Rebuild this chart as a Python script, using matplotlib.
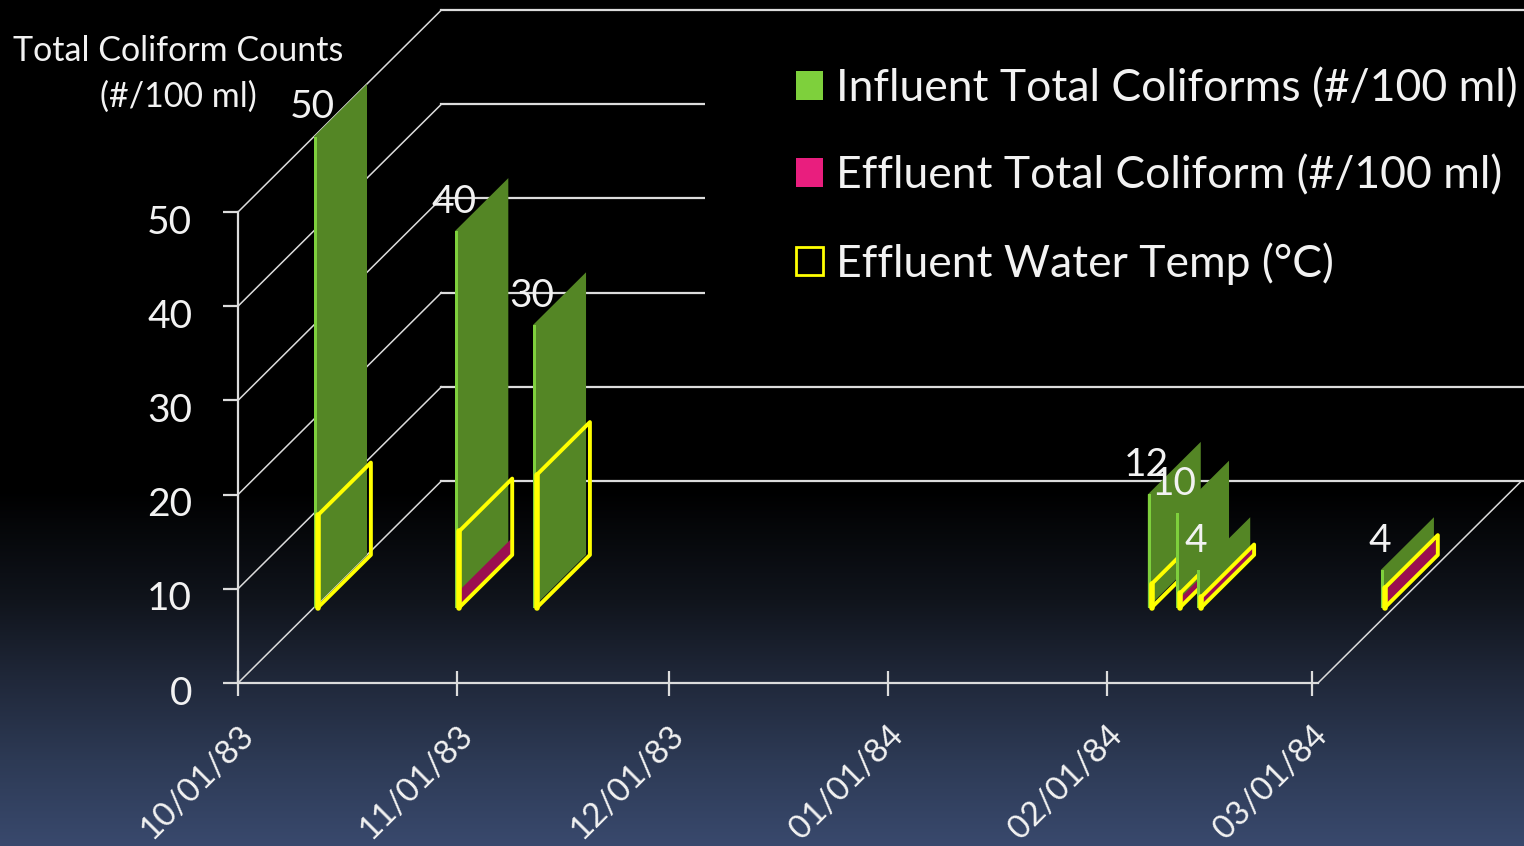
import numpy as np
import pandas as pd
import matplotlib
matplotlib.use("Agg")
import matplotlib.pyplot as plt
import matplotlib.dates as mdates
from matplotlib.patches import Patch, Polygon, Rectangle
from matplotlib.transforms import ScaledTranslation

plt.rcParams["font.family"] = ["Lato", "DejaVu Sans"]

# values
dates = ["1983-10-01", "1983-10-21", "1983-11-01", "1984-01-27", "1984-01-31", "1984-02-03", "1984-02-29"]
influent = [50, 40, 30, 12, 10, 4, 4]
effluent = [0.1, 1.8, 0.1, 0.1, 1.0, 1.1, 1.8]
water_temp = [9.8, 8.1, 14.1, 2.5, 1.5, 1.1, 2.1]
y_ticks = [0, 10, 20, 30, 40, 50]
x_ticks = ["1983-10-01", "1983-11-01", "1983-12-01", "1984-01-01", "1984-02-01", "1984-03-01"]
legend_labels = ["Influent Total Coliforms (#/100 ml)", "Effluent Total Coliform (#/100 ml)", "Effluent Water Temp (°C)"]

W, H = 1524, 846
TEXT = "#f2f2f2"
LINE = "#dcdcdc"
GREEN_SIDE = "#548625"
GREEN_FRONT = "#7ed03c"
PINK_SIDE = "#9b0f50"
PINK_LEGEND = "#e91e7e"
YELLOW = "#ffff00"

# oblique projection, depth is given in pixels
PX_PER_DAY = 1074 / 152
PX_PER_COUNT = 471 / 50
SLOPE = 0.993
WALL = 203.5
NEAR = 76
FAR = 129
YELLOW_SHIFT = 0.55


def deep(day, value, depth):
    return day + depth / PX_PER_DAY, value + SLOPE * depth / PX_PER_COUNT


def side(day, value, bottom=0):
    return [deep(day, bottom, NEAR), deep(day, bottom, FAR), deep(day, value, FAR), deep(day, value, NEAR)]


def px_shift(dx, dy):
    return ScaledTranslation(dx / 100, -dy / 100, fig.dpi_scale_trans)


fig = plt.figure(figsize=(W / 100, H / 100), dpi=100, facecolor="black")

# background fades from black to navy
bg = fig.add_axes([0, 0, 1, 1], zorder=0)
stops = np.array([0, 490, 600, 680, 760, 846])
reds = np.interp(np.arange(H), stops, [0, 0, 16, 32, 45, 57])
greens = np.interp(np.arange(H), stops, [0, 0, 20, 40, 58, 73])
blues = np.interp(np.arange(H), stops, [0, 0, 28, 58, 85, 109])
bg.imshow(np.stack([reds, greens, blues], axis=-1)[:, None, :].astype(np.uint8), aspect="auto")
bg.axis("off")

ax = fig.add_axes([238 / W, (H - 683) / H, 1080 / W, 471 / H], zorder=1)
ax.patch.set_alpha(0)

days = mdates.date2num(pd.to_datetime(dates))
start = mdates.date2num(pd.Timestamp(x_ticks[0]))
ax.set_xlim(start, start + 1080 / PX_PER_DAY)
ax.set_ylim(0, 50)
right = start + 1080 / PX_PER_DAY

# side wall, back wall and floor edge
for v in y_ticks:
    xs, ys = zip((start, v), deep(start, v, WALL))
    ax.plot(xs, ys, color=LINE, lw=1.1, clip_on=False, zorder=1)
    ax.plot([deep(start, v, WALL)[0], deep(right, v, WALL)[0] + 10], [deep(start, v, WALL)[1]] * 2,
            color=LINE, lw=1.6, clip_on=False, zorder=1)
xs, ys = zip((right, 0), deep(right, 0, WALL))
ax.plot(xs, ys, color=LINE, lw=1.1, clip_on=False, zorder=1)

# black area behind the legend
ax.add_patch(Rectangle((705 / W, (H - 330) / H), (W - 705) / W, 290 / H, transform=fig.transFigure,
                       facecolor="black", edgecolor="none", clip_on=False, zorder=2))

# bars, later dates in front
z = 3
day_w = 3 / PX_PER_DAY
for day, infl, eff, temp in zip(days, influent, effluent, water_temp):
    ax.add_patch(Polygon(side(day, infl), facecolor=GREEN_SIDE, edgecolor="none", clip_on=False, zorder=z))
    fx, fy = deep(day, 0, NEAR)
    ax.add_patch(Rectangle((fx, fy), day_w, infl, facecolor=GREEN_FRONT, edgecolor="none", clip_on=False, zorder=z))
    d2 = day + YELLOW_SHIFT
    ax.add_patch(Polygon(side(d2, eff), facecolor=PINK_SIDE, edgecolor="none", clip_on=False, zorder=z))
    ax.add_patch(Polygon(side(d2, temp), facecolor="none", edgecolor=YELLOW, lw=2.8, joinstyle="round",
                         clip_on=False, zorder=z))
    fx2, fy2 = deep(d2, 0, NEAR)
    ax.plot([fx2, fx2], [fy2, fy2 + temp], color=YELLOW, lw=4.0, clip_on=False, zorder=z,
            solid_capstyle="round")
    z += 1

for day, infl in zip(days, influent):
    fx, fy = deep(day, infl, NEAR)
    ax.annotate(str(infl), (fx, fy), xytext=(-1, 21), textcoords="offset points", ha="center", va="center",
                color=TEXT, fontsize=28, annotation_clip=False, zorder=20)

# axes
for name in ["top", "right"]:
    ax.spines[name].set_visible(False)
for name in ["left", "bottom"]:
    ax.spines[name].set_color(LINE)
    ax.spines[name].set_linewidth(1.6)
    ax.spines[name].set_zorder(2)

ax.set_yticks(y_ticks)
ax.set_yticklabels([str(v) for v in y_ticks])
ax.tick_params(axis="y", direction="out", length=11, width=1.6, color=LINE, labelcolor=TEXT, labelsize=28, pad=22)
ax.set_xticks(mdates.date2num(pd.to_datetime(x_ticks)))
ax.set_xticklabels(pd.to_datetime(x_ticks).strftime("%m/%d/%y"))
ax.tick_params(axis="x", direction="inout", length=18, width=1.6, color=LINE, labelcolor=TEXT, labelsize=24, pad=18)
for lab in ax.get_xticklabels():
    lab.set_rotation(45)
    lab.set_ha("right")
    lab.set_rotation_mode("anchor")
for lab in ax.get_yticklabels():
    lab.set_transform(lab.get_transform() + px_shift(0, 7))

fig.text(178 / W, (H - 74) / H, "Total Coliform Counts\n(#/100 ml)", color=TEXT, fontsize=24.5,
         ha="center", va="center", linespacing=1.55, zorder=5)

handles = [Patch(facecolor=GREEN_FRONT, edgecolor="none"),
           Patch(facecolor=PINK_LEGEND, edgecolor="none"),
           Patch(facecolor="none", edgecolor=YELLOW, lw=2)]
leg = fig.legend(handles, legend_labels, loc="upper left", bbox_to_anchor=(796 / W, (H - 68) / H),
                 frameon=False, fontsize=32, labelcolor=TEXT, borderpad=0, borderaxespad=0,
                 handlelength=0.61, handleheight=0.61, handletextpad=0.29, labelspacing=1.03)
leg.set_zorder(30)

fig.savefig("out.png", dpi=100, facecolor=fig.get_facecolor())
